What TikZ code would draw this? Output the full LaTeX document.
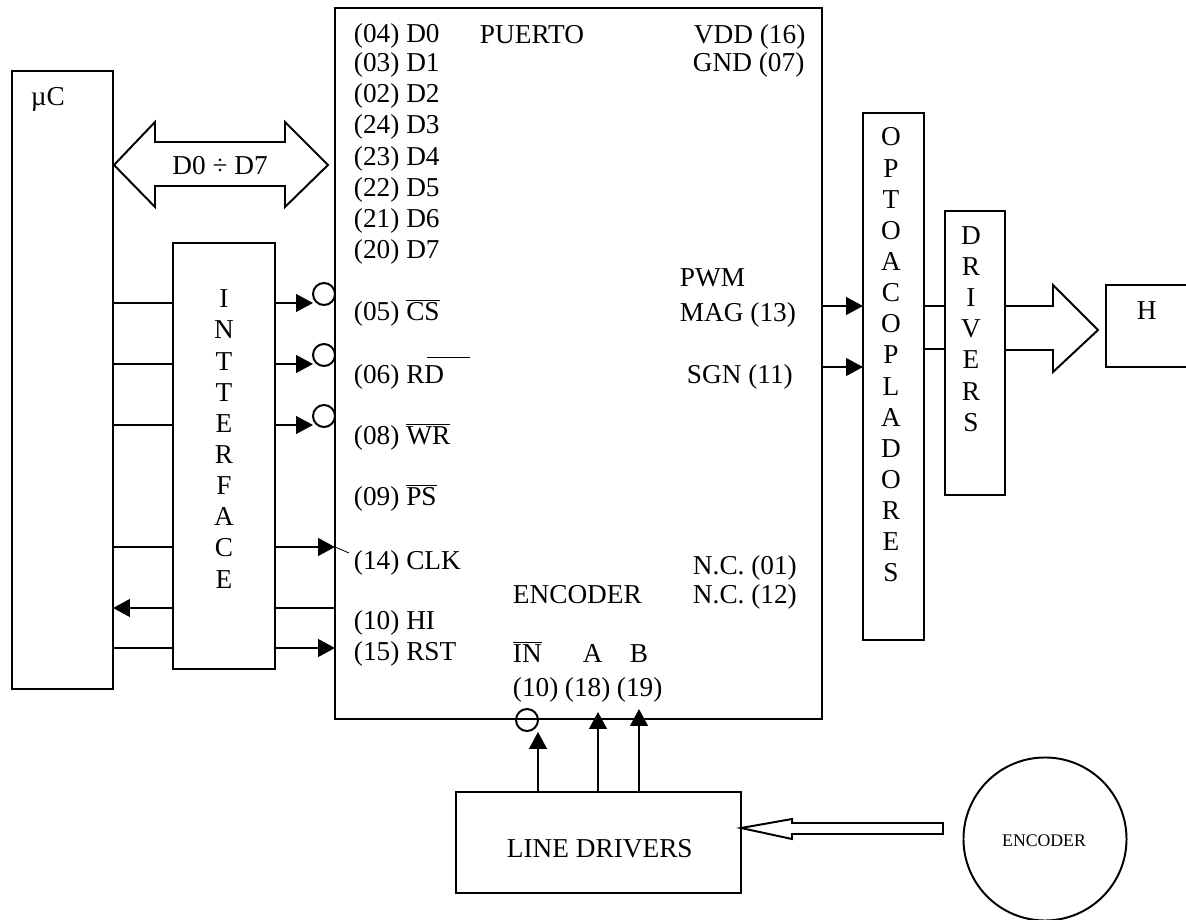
\documentclass[tikz,border=0pt]{standalone}
\usepackage{fontspec}
\setmainfont{Liberation Serif}
\usetikzlibrary{arrows.meta}
\newcommand{\lblfont}{\fontsize{19.4}{22.15}\selectfont}
\begin{document}
\begin{tikzpicture}[x=0.025cm,y=-0.025cm,line width=1.4pt,
    box/.style 2 args={draw, anchor=north west, inner sep=0, outer sep=0, minimum width=#1*0.25mm, minimum height=#2*0.25mm},
    lbl/.style={font=\lblfont, anchor=base west, inner sep=0},
    stack/.style={font=\lblfont, align=center, inner sep=0},
    bubble/.style={draw, circle, inner sep=0, outer sep=0, minimum size=5.5mm},
    arr/.style={-{Triangle[length=4.2mm,width=4.4mm]}}]
    \useasboundingbox (0,0) rectangle (1186,920);

    % Blocks
    \node[box={101}{618}] (uc) at (12,71) {};
    \node[box={102}{426}] (iface) at (173,243) {};
    \node[box={487}{711}] (main) at (335,8) {};
    \node[box={61}{527}] (opto) at (863,113) {};
    \node[box={60}{284}] (drv) at (945,211) {};
    \node[box={90}{82}] (hbox) at (1106,285) {};
    \node[box={285}{101}] (linedrv) at (456,792) {};
    \node[draw, circle, inner sep=0, outer sep=0, minimum size=40.75mm] (enc) at (1045,839) {};

    % Block labels
    \node[lbl] (uclbl) at (30,106) {\textmu C};
    \node[stack] (ifacelbl) at (224,439) {I\\N\\T\\T\\E\\R\\F\\A\\C\\E};
    \node[stack] (optolbl) at (891,355) {O\\P\\T\\O\\A\\C\\O\\P\\L\\A\\D\\O\\R\\E\\S};
    \node[stack] (drvlbl) at (971,329) {D\\R\\I\\V\\E\\R\\S};
    \node[lbl] (hlbl) at (1136,319) {H};
    \node[lbl] (ldlbl) at (506,857) {LINE DRIVERS};
    \node[font=\fontsize{12.6}{14}\selectfont, inner sep=0] (enclbl) at (1044,841) {ENCODER};

    % Pins on the left of the main block
    \foreach \nm/\y/\txt in {a/43/(04) D0, b/72/(03) D1, c/103/(02) D2, d/134/(24) D3,
        e/165/(23) D4, f/196/(22) D5, g/227/(21) D6, h/258/(20) D7,
        cs/320/(05) $\overline{\mbox{CS}}$, rd/383/(06) RD, wr/444/(08) $\overline{\mbox{WR}}$,
        ps/505/(09) $\overline{\mbox{PS}}$, clk/569/(14) CLK, hi/629/(10) HI, rst/660/(15) RST}
        \node[lbl] (pin\nm) at (353,\y) {\txt};
    \draw[line width=0.6pt] (427,357) -- (470,357);

    % Pins on the right and the middle of the main block
    \node[lbl] (puerto) at (479,44) {PUERTO};
    \node[lbl] (vdd) at (693,44) {VDD (16)};
    \node[lbl] (gnd) at (692,72) {GND (07)};
    \node[lbl] (pwm) at (679,286) {PWM};
    \node[lbl] (mag) at (679,321) {MAG (13)};
    \node[lbl] (sgn) at (686,383) {SGN (11)};
    \node[lbl] (nca) at (692,574) {N.C. (01)};
    \node[lbl] (ncb) at (692,603) {N.C. (12)};
    \node[lbl] (encname) at (512,603) {ENCODER};
    \node[lbl] (inlbl) at (512,662) {$\overline{\mbox{IN}}$};
    \node[lbl] (albl) at (582,662) {A};
    \node[lbl] (blbl) at (629,662) {B};
    \node[lbl] (innum) at (512,696) {(10)};
    \node[lbl] (anum) at (564,696) {(18)};
    \node[lbl] (bnum) at (616,696) {(19)};

    % Inverting bubbles
    \node[bubble] (bcs) at (324,294) {};
    \node[bubble] (brd) at (324,355) {};
    \node[bubble] (bwr) at (324,416) {};
    \node[bubble] (bin) at (527,720) {};

    % Data bus
    \coordinate (busl) at (114,165);
    \draw (busl) -- ++(41,-43) -- ++(0,20) -- ++(130,0) -- ++(0,-20) -- ++(43,43)
        -- ++(-43,42) -- ++(0,-21) -- ++(-130,0) -- ++(0,21) -- cycle;
    \node[lbl, anchor=center] (buslbl) at (220,166) {D0 ÷ D7};

    % Wires from uC to interface
    \foreach \y in {303,364,425,547,648}
        \draw (uc.east |- 0,\y) -- (iface.west |- 0,\y);
    \draw[arr] (iface.west |- 0,608) -- (uc.east |- 0,608);

    % Interface to main block
    \draw[arr] (iface.east |- 0,303) -- (bcs.west |- 0,303);
    \draw[arr] (iface.east |- 0,364) -- (brd.west |- 0,364);
    \draw[arr] (iface.east |- 0,425) -- (bwr.west |- 0,425);
    \draw[arr] (iface.east |- 0,547) -- (main.west |- 0,547);
    \draw (iface.east |- 0,608) -- (main.west |- 0,608);
    \draw[arr] (iface.east |- 0,648) -- (main.west |- 0,648);
    \draw[line width=0.6pt] (main.west |- 0,547) -- (349,553);

    % Outputs
    \draw[arr] (main.east |- 0,306) -- (opto.west |- 0,306);
    \draw[arr] (main.east |- 0,367) -- (opto.west |- 0,367);
    \draw (opto.east |- 0,306) -- (drv.west |- 0,306);
    \draw (opto.east |- 0,349) -- (drv.west |- 0,349);

    % Power arrow to H
    \draw (drv.east |- 0,306) -- (1053,306) -- (1053,285) -- (1098,330) -- (1053,372)
        -- (1053,350) -- (drv.east |- 0,350);

    % Line drivers to main block
    \coordinate (pinin) at (538,732);
    \coordinate (pina) at (598,712);
    \coordinate (pinb) at (639,709);
    \draw[arr] (linedrv.north -| pinin) -- (pinin);
    \draw[arr] (linedrv.north -| pina) -- (pina);
    \draw[arr] (linedrv.north -| pinb) -- (pinb);

    % Encoder arrow
    \coordinate (enctail) at (943,828);
    \draw (linedrv.east |- enctail) -- ++(51,-9) -- ++(0,4) -- (enctail |- 0,823) -- (enctail |- 0,834)
        -- (792,834) -- ++(0,5) -- cycle;
\end{tikzpicture}
\end{document}
